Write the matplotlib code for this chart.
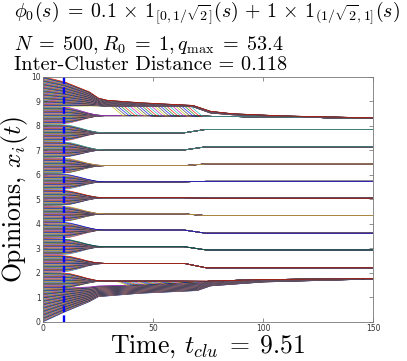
import numpy as np
import matplotlib
matplotlib.use("Agg")
import matplotlib.pyplot as plt

plt.rcParams['mathtext.fontset'] = 'cm'

# ---------------- data ----------------
N = 500
x_init_range = [0.0, 10.0]
t_max = 150
t_clu = 9.51

# shrink profile of a forming cluster (fraction of initial offset kept)
shrink_t = [0, 8, 12, 16, 20, 24, 28]
shrink_f = [1.0, 0.98, 0.88, 0.62, 0.32, 0.08, 0.0]

# middle clusters: centre after forming, centre at the end
mid_centres = [2.38, 3.06, 3.74, 4.40, 5.06, 5.71, 6.37, 7.01, 7.71]
mid_finals = [2.20, 2.93, 3.61, 4.33, 5.04, 5.73, 6.44, 7.14, 7.85]
mid_basins = [2.02, 2.72, 3.40, 4.07, 4.73, 5.38, 6.04, 6.70, 7.36, 8.06]
drift_t = [64, 74]

# upper cluster (absorbs the top band)
upper_basin = [8.06, 8.78]
upper_t = [28, 48, 109, 150]
upper_x = [8.41, 8.41, 8.35, 8.30]

# lower cluster (dissolves into the bottom band)
lower_basin = [1.35, 2.02]
lower_centre = 1.66
lower_depart = [33, 72]

# top band
top_t = [0, 10, 21, 25, 29, 44, 59, 68, 76, 86, 109, 150]
top_hi = [10.0, 9.78, 9.38, 9.13, 9.04, 8.94, 8.87, 8.83, 8.59, 8.49, 8.40, 8.32]
top_lo = [8.78, 8.78, 8.80, 8.80, 8.78, 8.76, 8.74, 8.72, 8.45, 8.40, 8.36, 8.30]
top_depart_frac = 0.45
top_depart = [30, 68]

# bottom band
bot_t = [0, 10, 21, 25, 44, 70, 76, 100, 150]
bot_lo = [0.0, 0.41, 0.82, 1.02, 1.16, 1.27, 1.46, 1.62, 1.74]
bot_hi = [1.35, 1.38, 1.42, 1.46, 1.50, 1.60, 1.66, 1.72, 1.76]

descent = 5

matlab_colors = [(0, 0, 1), (0, 0.5, 0), (1, 0, 0), (0, 0.75, 0.75),
                 (0.75, 0, 0.75), (0.75, 0.75, 0), (0.25, 0.25, 0.25)]

x0 = np.linspace(x_init_range[0], x_init_range[1], N)

# ---------------- figure ----------------
fig = plt.figure(figsize=(4.07, 3.61), dpi=100)
ax = fig.add_axes([0.1064, 0.1089, 0.8108, 0.6786])

shrink_t = np.array(shrink_t, float)
shrink_f = np.array(shrink_f, float)
top_t_a = np.array(top_t, float)
bot_t_a = np.array(bot_t, float)

lower_idx = np.where((x0 >= lower_basin[0]) & (x0 < lower_basin[1]))[0]

for i, x in enumerate(x0):
    if x < lower_basin[0]:
        u = (x - x_init_range[0]) / (lower_basin[0] - x_init_range[0])
        T = bot_t_a
        X = np.array(bot_lo) + u * (np.array(bot_hi) - np.array(bot_lo))
    elif x < lower_basin[1]:
        k = np.searchsorted(lower_idx, i)
        r = k / max(len(lower_idx) - 1, 1)
        td = lower_depart[0] + r * (lower_depart[1] - lower_depart[0])
        ta = td + descent
        Xs = lower_centre + shrink_f * (x - lower_centre)
        after = bot_t_a > ta
        T = np.concatenate([shrink_t, [td, ta], bot_t_a[after]])
        X = np.concatenate([Xs, [lower_centre, np.interp(ta, bot_t, bot_hi)],
                            np.array(bot_hi)[after]])
    elif x < upper_basin[0]:
        j = np.searchsorted(mid_basins, x, side='right') - 1
        c, cf = mid_centres[j], mid_finals[j]
        Xs = c + shrink_f * (x - c)
        T = np.concatenate([shrink_t, drift_t, [t_max]])
        X = np.concatenate([Xs, [c, cf, cf]])
    elif x < upper_basin[1]:
        c = upper_x[0]
        Xs = c + shrink_f * (x - c)
        T = np.concatenate([shrink_t, upper_t[1:]])
        X = np.concatenate([Xs, upper_x[1:]])
    else:
        u = (x - upper_basin[1]) / (x_init_range[1] - upper_basin[1])
        band = np.array(top_lo) + u * (np.array(top_hi) - np.array(top_lo))
        if u < top_depart_frac:
            td = top_depart[0] + (u / top_depart_frac) * (top_depart[1] - top_depart[0])
            ta = td + descent
            before = top_t_a < td
            after = np.array(upper_t) > ta
            T = np.concatenate([top_t_a[before], [td, ta], np.array(upper_t)[after]])
            X = np.concatenate([band[before], [np.interp(td, top_t, band),
                                              np.interp(ta, upper_t, upper_x)],
                                np.array(upper_x)[after]])
        else:
            T = top_t_a
            X = band
    ax.plot(T, X, color=matlab_colors[i % 7], lw=0.5, alpha=0.85)

ax.axvline(t_clu, color='blue', lw=1.7, dashes=(2.8, 1.4))

ax.set_xlim(0, t_max)
ax.set_ylim(0, 10)
ax.set_xticks([0, 50, 100, 150])
ax.set_yticks(range(0, 11))
ax.tick_params(direction='in', length=3, width=0.5, top=True, right=True,
               labelsize=5.5, labelcolor='#333333', color='#666666', pad=2)
for s in ax.spines.values():
    s.set_color('#777777')
    s.set_linewidth(0.6)

ax.set_ylabel(r'Opinions, $x_i(t)$', fontsize=18.5, family='cmr10', labelpad=1)
ax.set_xlabel(r'Time, $t_{clu}\;=\;9.51$', fontsize=18.5, family='cmr10', labelpad=0)

fig.text(0.034, 0.950,
         r'$\phi_0(s)\;=\;0.1 \,\times\, \mathbf{1}_{[0,1/\sqrt{2}]}(s) \,+\, 1 \,\times\, \mathbf{1}_{(1/\sqrt{2},1]}(s)$',
         fontsize=14.3, ha='left', va='baseline')
fig.text(0.034, 0.861, r'$N\;=\;500, R_0\;=\;1, q_{\max}\;=\;53.4$',
         fontsize=14.5, ha='left', va='baseline')
fig.text(0.034, 0.805, 'Inter-Cluster Distance = 0.118',
         fontsize=14.6, family='cmr10', ha='left', va='baseline')

fig.savefig('out.png', dpi=100)
